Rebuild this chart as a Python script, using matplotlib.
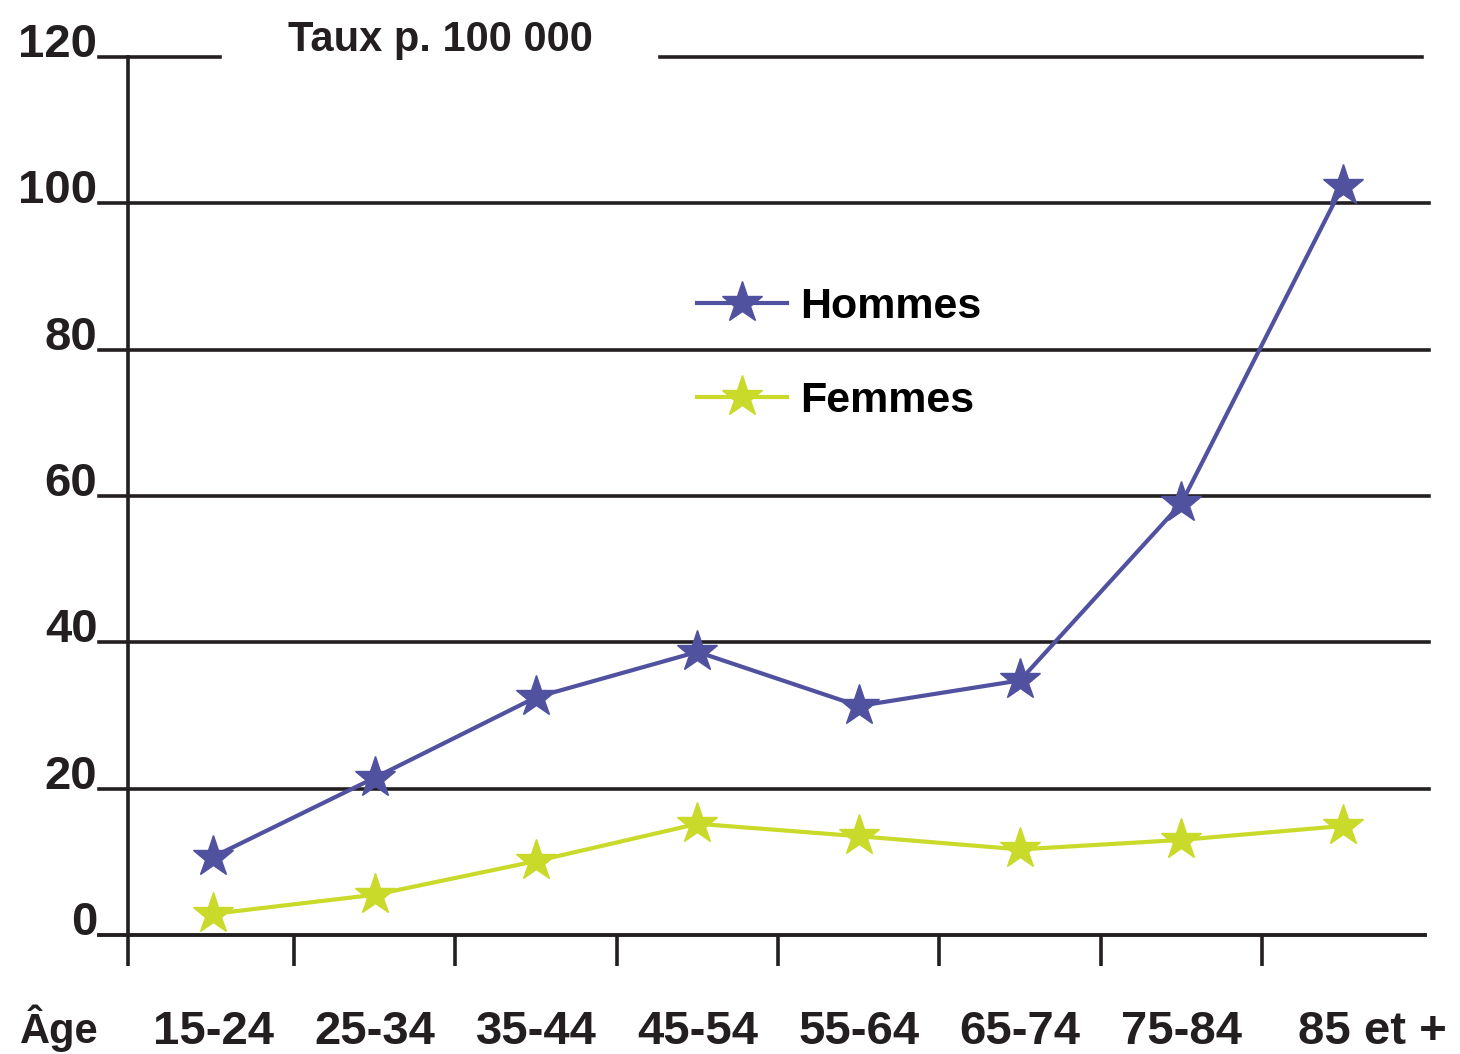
# Taux p. 100 000 par groupe d'age, hommes et femmes

import numpy as np
import matplotlib
matplotlib.use("Agg")
import matplotlib.pyplot as plt
import matplotlib.transforms as mtransforms

ages = ["15-24", "25-34", "35-44", "45-54", "55-64", "65-74", "75-84", "85 et +"]
hommes = [10.7, 21.5, 32.5, 38.7, 31.3, 34.8, 59.0, 102.4]
femmes = [2.9, 5.5, 10.1, 15.2, 13.5, 11.7, 13.0, 14.9]
yticks = [0, 20, 40, 60, 80, 100, 120]

blue = "#5052a0"
green = "#c9da2a"
ink = "#231f20"

plt.rcParams["font.family"] = ["Liberation Sans", "DejaVu Sans"]
plt.rcParams["font.weight"] = "bold"

fig = plt.figure(figsize=(14.6, 10.54), dpi=100)
ax = fig.add_axes([128 / 1460, 1 - 935 / 1054, 1297 / 1460, 878 / 1054])

x = np.arange(len(ages))
ax.set_xlim(-0.53, 7.51)
ax.set_ylim(0, 120)

# horizontal rules, the top one broken by the title
for v in yticks[1:-1]:
    ax.axhline(v, xmin=-0.022, xmax=1.003, color=ink, lw=2.6, clip_on=False, zorder=1)
ax.axhline(120, xmin=-0.022, xmax=0.071, color=ink, lw=2.6, clip_on=False, zorder=1)
ax.axhline(120, xmin=0.41, xmax=0.998, color=ink, lw=2.6, clip_on=False, zorder=1)
ax.axhline(0, xmin=-0.022, xmax=1.0, color=ink, lw=2.8, clip_on=False, zorder=1)

ax.plot(x, hommes, color=blue, lw=3, marker="*", ms=31, label="Hommes", zorder=3)
ax.plot(x, femmes, color=green, lw=3, marker="*", ms=31, label="Femmes", zorder=3)

for s in ["top", "right", "bottom"]:
    ax.spines[s].set_visible(False)
ax.spines["left"].set_color(ink)
ax.spines["left"].set_linewidth(2.6)

ax.set_yticks(yticks)
ax.set_yticklabels([str(v) for v in yticks])
for lab in ax.get_yticklabels():
    lab.set_verticalalignment("baseline")
ax.tick_params(axis="y", length=0, pad=22, labelsize=34, labelcolor=ink)

ax.set_xticks(x)
ax.set_xticklabels(ages)
ax.tick_params(axis="x", which="major", length=0, pad=54, labelsize=34, labelcolor=ink)
ax.set_xticks([-0.53] + list(x[:-1] + 0.5), minor=True)
ax.tick_params(axis="x", which="minor", length=22, width=2.6, color=ink)

# last label sits a little to the right in the original
last = ax.get_xticklabels()[-1]
last.set_transform(last.get_transform() + mtransforms.ScaledTranslation(0.3, 0, fig.dpi_scale_trans))

fig.text(288 / 1460, 1 - 40 / 1054, "Taux p. 100 000", fontsize=30, color=ink,
         ha="left", va="center")
fig.text(20 / 1460, 1 - 1028 / 1054, "Âge", fontsize=30, color=ink, ha="left", va="center")

ax.legend(loc="upper left", bbox_to_anchor=(658 / 1460, 1 - 248 / 1054),
          bbox_transform=fig.transFigure, frameon=False, handlelength=2.1,
          handletextpad=0.3, labelspacing=1.25, prop={"size": 31, "weight": "bold"})

fig.savefig("out.png", dpi=100)
